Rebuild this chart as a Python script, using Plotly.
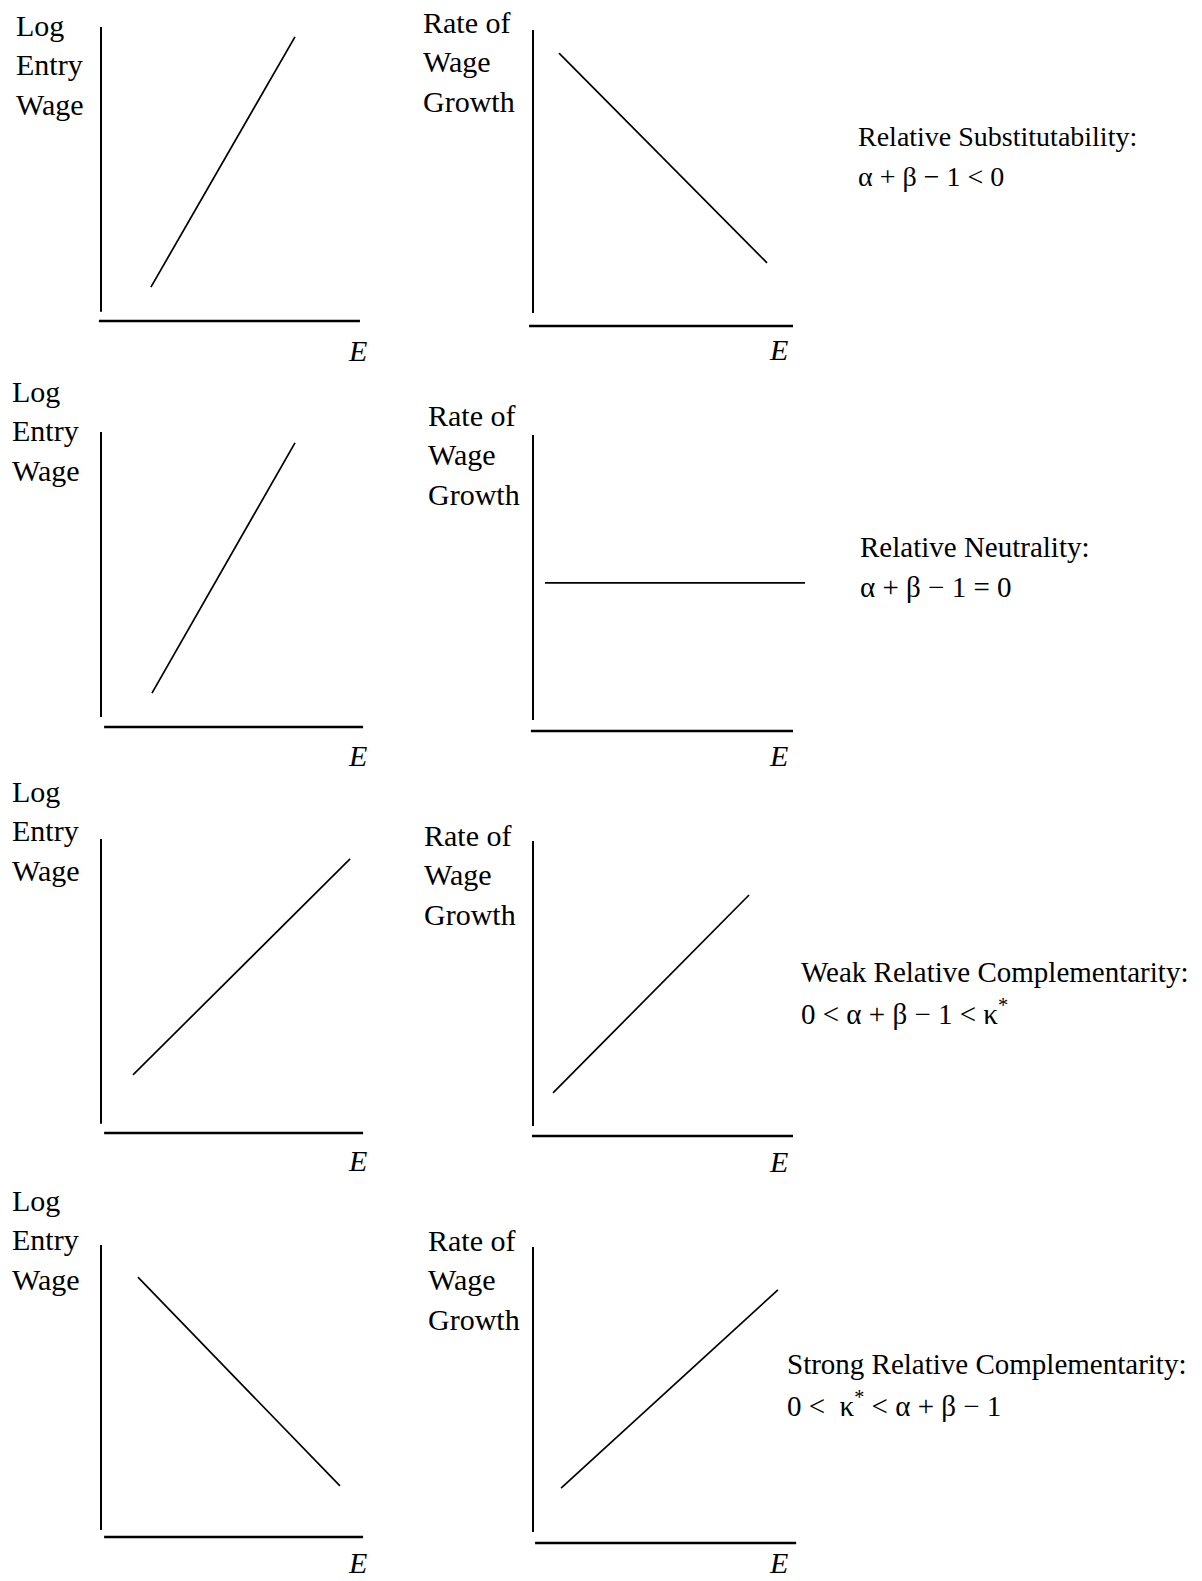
import plotly.graph_objects as go

# the html page keeps an 8px body margin, so the figure is drawn inside it
PAGE_W, PAGE_H = 1202, 1581
PAGE_MARGIN = 8
FIG_W, FIG_H = PAGE_W - 2 * PAGE_MARGIN, PAGE_H - 2 * PAGE_MARGIN
FONT = "Liberation Serif, Times New Roman, serif"

# corner of each panel's axes (vertical axis x, horizontal axis y), page pixels
PANEL_ORIGINS = [
    (101, 321), (533, 326),
    (101, 727), (533, 731),
    (101, 1133), (533, 1136),
    (101, 1537), (533, 1543),
]
UNIT_X, UNIT_Y = 26.0, 29.5
X_RANGE = [-0.5, 11.0]
Y_RANGE = [-0.5, 10.5]

# schematic curves, one per panel (left = log entry wage, right = wage growth)
curve_x = [
    [1.92, 7.46], [1.00, 9.00],
    [1.96, 7.46], [0.46, 10.46],
    [1.23, 9.58], [0.77, 8.31],
    [1.42, 9.19], [1.08, 9.42],
]
curve_y = [
    [1.15, 9.63], [9.25, 2.14],
    [1.15, 9.63], [5.02, 5.02],
    [1.97, 9.29], [1.46, 8.17],
    [8.81, 1.73], [1.86, 8.58],
]

# hand-drawn axes: vertical extent and horizontal extent per panel
yaxis_line_y = [
    [0.31, 9.97], [0.44, 10.03],
    [0.34, 10.00], [0.37, 10.03],
    [0.31, 9.97], [0.34, 10.00],
    [0.24, 9.90], [0.37, 10.03],
]
xaxis_line_x = [
    [-0.08, 9.96], [-0.15, 10.00],
    [0.12, 10.08], [-0.08, 10.00],
    [0.12, 10.08], [-0.04, 10.00],
    [0.12, 10.08], [0.08, 10.12],
]

left_label = ["Log", "Entry", "Wage"]
right_label = ["Rate of", "Wage", "Growth"]
# (x, first baseline) of the y-axis label block, per panel
label_pos = [
    (14, 35), (421, 32),
    (10, 401), (426, 425),
    (10, 801), (422, 845),
    (10, 1210), (426, 1250),
]
e_pos = [
    (357, 350), (778, 349),
    (357, 755), (778, 755),
    (357, 1160), (778, 1161),
    (357, 1562), (778, 1562),
]

regime_title = [
    "Relative Substitutability:",
    "Relative Neutrality:",
    "Weak Relative Complementarity:",
    "Strong Relative Complementarity:",
]
regime_condition = [
    "α + β − 1 < 0",
    "α + β − 1 = 0",
    "0 < α + β − 1 < κ<sup>*</sup>",
    "0 <\u00a0 κ<sup>*</sup> < α + β − 1",
]
regime_pos = [(856, 145, 28), (858, 556, 29), (799, 981, 29), (785, 1373, 29)]


def px_x(x):
    return (x - PAGE_MARGIN) / FIG_W


def px_y(y):
    return 1 - (y - PAGE_MARGIN) / FIG_H


def text_at(x, baseline, text, size, anchor="left"):
    return dict(
        x=px_x(x), y=px_y(baseline - 0.32 * size),
        xref="paper", yref="paper",
        xanchor=anchor, yanchor="middle",
        text=text, showarrow=False,
        font=dict(family=FONT, size=size, color="black"),
    )


fig = go.Figure()
annotations = []

for i, (ox, oy) in enumerate(PANEL_ORIGINS):
    n = "" if i == 0 else str(i + 1)
    xa, ya = "x" + n, "y" + n
    fig.layout["xaxis" + n] = dict(
        domain=[px_x(ox + X_RANGE[0] * UNIT_X), px_x(ox + X_RANGE[1] * UNIT_X)],
        range=X_RANGE, visible=False, anchor=ya, fixedrange=True,
    )
    fig.layout["yaxis" + n] = dict(
        domain=[px_y(oy - Y_RANGE[0] * UNIT_Y), px_y(oy - Y_RANGE[1] * UNIT_Y)],
        range=Y_RANGE, visible=False, anchor=xa, fixedrange=True,
    )

    fig.add_trace(go.Scatter(x=[0, 0], y=yaxis_line_y[i], mode="lines",
                             line=dict(color="black", width=2), xaxis=xa, yaxis=ya))
    fig.add_trace(go.Scatter(x=xaxis_line_x[i], y=[0, 0], mode="lines",
                             line=dict(color="black", width=2.5), xaxis=xa, yaxis=ya))
    fig.add_trace(go.Scatter(x=curve_x[i], y=curve_y[i], mode="lines",
                             line=dict(color="black", width=1.7), xaxis=xa, yaxis=ya))

    lx, lb = label_pos[i]
    words = left_label if i % 2 == 0 else right_label
    for k, w in enumerate(words):
        annotations.append(text_at(lx, lb + 39.5 * k, w, 30))

    ex, ey = e_pos[i]
    annotations.append(text_at(ex, ey + 10, "<i>E</i>", 30, anchor="center"))

for title, cond, (rx, rb, size) in zip(regime_title, regime_condition, regime_pos):
    annotations.append(text_at(rx, rb, title, size))
    annotations.append(text_at(rx, rb + 40, cond, size))

fig.update_layout(
    width=FIG_W, height=FIG_H,
    margin=dict(l=0, r=0, t=0, b=0),
    paper_bgcolor="white", plot_bgcolor="white",
    showlegend=False, hovermode=False,
    annotations=annotations,
)

fig.write_html("out.html")
